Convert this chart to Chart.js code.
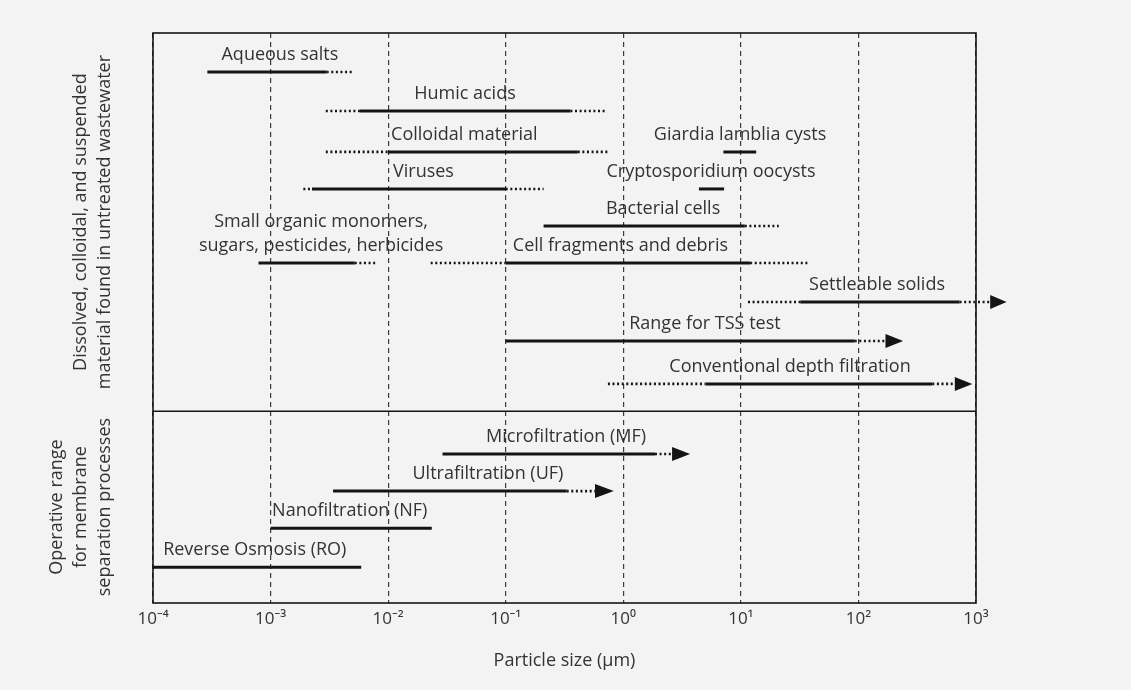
<!DOCTYPE html>
<html>
<head>
<meta charset="utf-8">
<script src="https://cdn.jsdelivr.net/npm/chart.js@4"></script>
<style>
  html, body { margin: 0; background: #f3f3f3; }
  canvas { display: block; }
</style>
</head>
<body>
<canvas id="chart" width="1131" height="690"></canvas>
<script>
// Size ranges (micrometres) of material in untreated wastewater and of membrane processes.
// Solid part = typical range, dotted parts = extended range, arrow = open-ended upper limit.
const names = [
  'Aqueous salts', 'Humic acids', 'Colloidal material', 'Viruses',
  'Giardia lamblia cysts', 'Cryptosporidium oocysts', 'Bacterial cells',
  'Small organic monomers,\nsugars, pesticides, herbicides', 'Cell fragments and debris',
  'Settleable solids', 'Range for TSS test', 'Conventional depth filtration',
  'Microfiltration (MF)', 'Ultrafiltration (UF)', 'Nanofiltration (NF)', 'Reverse Osmosis (RO)'
];
const lanes      = [1.0, 2.0, 3.05, 4.0, 3.05, 4.0, 4.95, 5.9, 5.9, 6.9, 7.9, 9.0, 10.8, 11.75, 12.7, 13.7];
const dottedFrom = [null, 2.95e-3, 2.95e-3, 1.9e-3, null, null, null, null, 0.023, 11.5, null, 0.74, null, null, null, null];
const solidFrom  = [2.9e-4, 5.75e-3, 0.01, 2.25e-3, 7.1, 4.4, 0.21, 7.9e-4, 0.1, 32, 0.1, 5.0, 0.029, 3.4e-3, 1e-3, 1e-4];
const solidTo    = [3.0e-3, 0.355, 0.41, 0.1, 13.5, 7.2, 10.8, 5.2e-3, 12, 725, 93, 425, 1.86, 0.33, 0.0235, 5.9e-3];
const dottedTo   = [4.9e-3, 0.70, 0.74, 0.21, null, null, 21, 7.8e-3, 37, 1320, 170, 660, 2.6, 0.575, null, null];
const arrowTo    = [null, null, null, null, null, null, null, null, null, 1820, 240, 930, 3.7, 0.83, null, null];

// Where each name sits along the size axis
const labelAt    = [1.2e-3, 0.045, 0.0106, 0.011, 9.85, 5.57, 2.18, 2.69e-3, 0.115, 144, 4.95, 26.2, 0.326, 0.0706, 1.03e-3, 1.22e-4];
const labelAlign = ['center', 'center', 'left', 'left', 'center', 'center', 'center', 'center', 'left',
                    'center', 'center', 'center', 'center', 'center', 'left', 'left'];

const tickValues = [1e-4, 1e-3, 1e-2, 1e-1, 1e0, 1e1, 1e2, 1e3];
const tickLabels = ['10\u207B\u2074', '10\u207B\u00B3', '10\u207B\u00B2', '10\u207B\u00B9', '10\u2070', '10\u00B9', '10\u00B2', '10\u00B3'];

const dividerLane = 9.7;
const laneMax = 14.62;
const sectionTitles = [
  ['Dissolved, colloidal, and suspended', 'material found in untreated wastewater'],
  ['Operative range', 'for membrane', 'separation processes']
];

const FONT = "'Open Sans', 'Noto Sans', sans-serif";
const INK = '#141414';
const TEXT = '#333333';

// One line dataset per solid or dotted piece of every range
const datasets = [];
function addSegment(from, to, lane, dotted) {
  datasets.push({
    data: [{ x: from, y: lane }, { x: to, y: lane }],
    borderColor: INK,
    borderWidth: dotted ? 2.6 : 3,
    borderDash: dotted ? [2, 2.6] : [],
    borderCapStyle: 'butt',
    pointRadius: 0,
    fill: false,
    tension: 0,
    clip: false
  });
}
names.forEach((n, i) => {
  if (dottedFrom[i] != null) addSegment(dottedFrom[i], solidFrom[i], lanes[i], true);
  addSegment(solidFrom[i], solidTo[i], lanes[i], false);
  if (dottedTo[i] != null) addSegment(solidTo[i], dottedTo[i], lanes[i], true);
});

// Frame, section divider, arrow heads and range names
const decorations = {
  id: 'decorations',
  afterDatasetsDraw(chart) {
    const { ctx, chartArea: a, scales: { x, y } } = chart;
    ctx.save();
    // arrow heads
    ctx.fillStyle = INK;
    names.forEach((n, i) => {
      if (arrowTo[i] == null) return;
      const base = x.getPixelForValue(dottedTo[i]);
      const tip = x.getPixelForValue(arrowTo[i]);
      const py = y.getPixelForValue(lanes[i]);
      ctx.beginPath();
      ctx.moveTo(base, py - 7);
      ctx.lineTo(tip, py);
      ctx.lineTo(base, py + 7);
      ctx.closePath();
      ctx.fill();
    });
    // frame and divider
    ctx.strokeStyle = INK;
    ctx.lineWidth = 1.6;
    ctx.strokeRect(a.left, a.top, a.right - a.left, a.bottom - a.top);
    const dy = y.getPixelForValue(dividerLane);
    ctx.beginPath();
    ctx.moveTo(a.left, dy);
    ctx.lineTo(a.right, dy);
    ctx.stroke();
    // names
    ctx.fillStyle = TEXT;
    ctx.font = '18px ' + FONT;
    ctx.textBaseline = 'middle';
    names.forEach((n, i) => {
      const px = x.getPixelForValue(labelAt[i]);
      const py = y.getPixelForValue(lanes[i]);
      const lines = n.split('\n');
      ctx.textAlign = labelAlign[i];
      lines.forEach((t, k) => {
        ctx.fillText(t, px, py - 17 - (lines.length - 1 - k) * 24);
      });
    });
    // section titles on the left
    const sections = [[a.top, dy], [dy, a.bottom]];
    sectionTitles.forEach((lines, s) => {
      const cy = (sections[s][0] + sections[s][1]) / 2;
      lines.forEach((t, k) => {
        const cx = a.left - 48 - (lines.length - 1 - k) * 24;
        ctx.save();
        ctx.translate(cx, cy);
        ctx.rotate(-Math.PI / 2);
        ctx.textAlign = 'center';
        ctx.fillText(t, 0, 0);
        ctx.restore();
      });
    });
    ctx.restore();
  }
};

new Chart(document.getElementById('chart'), {
  type: 'line',
  data: { datasets },
  options: {
    responsive: false,
    animation: false,
    layout: { padding: { left: 153, right: 155, top: 33, bottom: 0 } },
    plugins: { legend: { display: false }, tooltip: { enabled: false } },
    scales: {
      x: {
        type: 'logarithmic',
        min: 1e-4,
        max: 1e3,
        afterBuildTicks(scale) { scale.ticks = tickValues.map(v => ({ value: v })); },
        afterFit(scale) { scale.height = 87; },
        grid: { color: '#3a3a3a', lineWidth: 1.2, drawTicks: false },
        border: { display: false, dash: [5, 4] },
        ticks: {
          autoSkip: false,
          maxRotation: 0,
          padding: 6,
          color: TEXT,
          font: { family: FONT, size: 17 },
          callback: (v, i) => tickLabels[i]
        },
        title: {
          display: true,
          text: 'Particle size (\u03BCm)',
          color: TEXT,
          font: { family: FONT, size: 18 },
          padding: { top: 0, bottom: 18 }
        }
      },
      y: {
        type: 'linear',
        reverse: true,
        min: 0,
        max: laneMax,
        display: false
      }
    }
  },
  plugins: [decorations]
});
</script>
</body>
</html>
